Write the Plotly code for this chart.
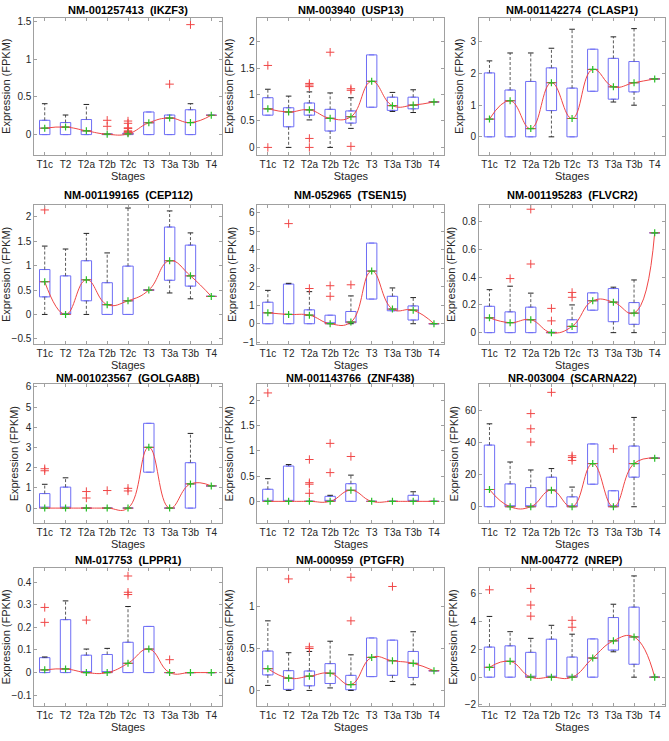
import plotly.graph_objects as go

STAGES = ["T1c", "T2", "T2a", "T2b", "T2c", "T3", "T3a", "T3b", "T4"]
POS = list(range(1, 10))

# ---------------- data ----------------
IKZF3_Q1 = [0, 0, 0, 0, 0, 0, 0, 0, 0.257]
IKZF3_MED = [0.085, 0.10, 0.05, 0.005, 0.01, 0.157, 0.22, 0.16, 0.257]
IKZF3_Q3 = [0.19, 0.16, 0.20, 0.01, 0.02, 0.30, 0.26, 0.33, 0.257]
IKZF3_LO = [0, 0, 0, 0, 0, 0, 0, 0, 0.257]
IKZF3_HI = [0.41, 0.26, 0.40, 0.01, 0.02, 0.30, 0.26, 0.41, 0.257]
IKZF3_OUT = [[], [], [], [0.19, 0.11], [0.18, 0.15, 0.09, 0.08, 0.05, 0.04, 0.03], [], [0.67], [1.46], []]

USP13_Q1 = [0.61, 0.39, 0.61, 0.31, 0.46, 0.76, 0.70, 0.73, 0.86]
USP13_MED = [0.73, 0.67, 0.71, 0.55, 0.58, 1.25, 0.79, 0.80, 0.86]
USP13_Q3 = [0.94, 0.75, 0.84, 0.72, 0.69, 1.75, 0.95, 0.95, 0.86]
USP13_LO = [0.61, 0, 0.52, 0, 0.36, 0.76, 0.68, 0.66, 0.86]
USP13_HI = [1.10, 0.97, 1.05, 1.03, 0.94, 1.75, 1.04, 1.09, 0.86]
USP13_OUT = [[1.55, 0], [], [1.21, 1.18, 1.15, 0.17, 0], [1.80], [1.11, 1.08, 0.02], [], [], [], []]

CLASP1_Q1 = [0, 0, 0, 0.83, 0, 1.44, 1.19, 1.42, 1.83]
CLASP1_MED = [0.56, 1.14, 0.26, 1.71, 0.58, 2.13, 1.58, 1.71, 1.83]
CLASP1_Q3 = [2.02, 1.48, 1.75, 2.18, 1.54, 2.77, 2.48, 2.38, 1.83]
CLASP1_LO = [0, 0, 0, 0, 0, 1.44, 1.10, 1.00, 1.83]
CLASP1_HI = [2.40, 2.65, 2.65, 2.80, 3.40, 2.77, 3.16, 3.42, 1.83]
CLASP1_OUT = [[], [], [], [], [], [], [], [], []]

CEP112_Q1 = [0.36, 0, 0.28, 0, 0, 0.49, 0.70, 0.58, 0.37]
CEP112_MED = [0.67, 0, 0.71, 0.20, 0.28, 0.50, 1.10, 0.79, 0.37]
CEP112_Q3 = [0.92, 0.79, 1.10, 0.65, 0.99, 0.51, 1.79, 1.42, 0.37]
CEP112_LO = [0, 0, 0, 0, 0, 0.49, 0.44, 0.32, 0.37]
CEP112_HI = [1.40, 1.34, 1.66, 1.26, 2.18, 0.51, 2.12, 1.67, 0.37]
CEP112_OUT = [[2.14], [], [], [], [], [], [], [], []]

TSEN15_Q1 = [0, 0, 0, 0, 0.05, 1.33, 0.70, 0.20, 0]
TSEN15_MED = [0.59, 0.50, 0.46, 0, 0.09, 2.84, 0.79, 0.73, 0]
TSEN15_Q3 = [1.16, 2.14, 0.75, 0.46, 0.66, 4.35, 1.48, 0.96, 0]
TSEN15_LO = [0, 0, 0, 0, 0, 1.33, 0.70, 0, 0]
TSEN15_HI = [1.80, 2.18, 1.73, 0.46, 1.50, 4.35, 1.93, 1.41, 0]
TSEN15_OUT = [[], [5.4], [1.9], [2.05, 1.48], [2.1], [], [], [], []]

FLVCR2_Q1 = [0, 0, 0, 0, 0, 0.162, 0.079, 0.06, 0.72]
FLVCR2_MED = [0.107, 0.072, 0.093, 0.0, 0.045, 0.23, 0.22, 0.141, 0.72]
FLVCR2_Q3 = [0.19, 0.15, 0.184, 0.003, 0.093, 0.287, 0.318, 0.217, 0.72]
FLVCR2_LO = [0, 0, 0, 0, 0, 0.162, 0, 0, 0.72]
FLVCR2_HI = [0.31, 0.335, 0.285, 0.003, 0.20, 0.287, 0.328, 0.38, 0.72]
FLVCR2_OUT = [[], [0.39], [0.89, 0.495], [0.175, 0.085], [0.29, 0.255], [], [], [], []]

GOLGA8B_Q1 = [0, 0, 0, 0, 0, 1.78, 0, 0, 1.1]
GOLGA8B_MED = [0, 0, 0, 0, 0, 3.01, 0, 1.2, 1.1]
GOLGA8B_Q3 = [0.72, 1.04, 0, 0, 0, 4.2, 0, 2.25, 1.1]
GOLGA8B_LO = [0, 0, 0, 0, 0, 1.78, 0, 0, 1.1]
GOLGA8B_HI = [1.18, 1.5, 0, 0, 0, 4.2, 0, 3.7, 1.1]
GOLGA8B_OUT = [[1.95, 1.85], [], [0.82, 0.5], [0.87], [0.98, 0.85], [], [], [], []]

ZNF438_Q1 = [0, 0, 0, 0, 0, 0, 0, 0, 0]
ZNF438_MED = [0, 0, 0, 0, 0.22, 0, 0, 0, 0]
ZNF438_Q3 = [0.24, 0.70, 0, 0.10, 0.35, 0, 0, 0.12, 0]
ZNF438_LO = [0, 0, 0, 0, 0, 0, 0, 0, 0]
ZNF438_HI = [0.45, 0.73, 0, 0.12, 0.52, 0, 0, 0.19, 0]
ZNF438_OUT = [[2.15], [], [0.83, 0.37, 0.34, 0.16], [1.15, 0.57], [0.89], [], [], [], []]

SCARNA22_Q1 = [0, 0, 0, 0, 0, 14.1, 0, 18.5, 30.4]
SCARNA22_MED = [10.8, 0, 0, 10.4, 0, 27, 0, 27, 30.4]
SCARNA22_Q3 = [38.6, 14.3, 12, 18.5, 6.2, 39.3, 10, 38, 30.4]
SCARNA22_LO = [0, 0, 0, 0, 0, 14.1, 0, 0, 30.4]
SCARNA22_HI = [51.9, 28, 23, 23.9, 12.3, 39.3, 10, 55.9, 30.4]
SCARNA22_OUT = [[], [], [58.3, 48.8, 40.5], [71.6], [31.9, 30.8, 29], [], [36.3], [], []]

LPPR1_Q1 = [0, 0, 0, 0, 0, 0, 0, 0, 0]
LPPR1_MED = [0.012, 0.016, 0, 0, 0.041, 0.104, 0, 0, 0]
LPPR1_Q3 = [0.066, 0.234, 0.077, 0.08, 0.134, 0.204, 0, 0, 0]
LPPR1_LO = [0, 0, 0, 0, 0, 0, 0, 0, 0]
LPPR1_HI = [0.069, 0.317, 0.104, 0.107, 0.292, 0.204, 0, 0, 0]
LPPR1_OUT = [[0.288, 0.222], [], [0.232], [], [0.427, 0.355, 0.345], [], [0.057], [], []]

PTGFR_Q1 = [0.185, 0.012, 0.055, 0.083, 0.008, 0.165, 0.18, 0.155, 0.235]
PTGFR_MED = [0.26, 0.146, 0.17, 0.205, 0.07, 0.394, 0.354, 0.323, 0.235]
PTGFR_Q3 = [0.47, 0.236, 0.232, 0.32, 0.18, 0.626, 0.6, 0.465, 0.235]
PTGFR_LO = [0.06, 0, 0, 0.03, 0, 0.165, 0.107, 0.068, 0.235]
PTGFR_HI = [0.83, 0.45, 0.465, 0.587, 0.425, 0.626, 0.6, 0.7, 0.235]
PTGFR_OUT = [[], [1.33], [0.52, 0.5], [], [1.35, 0.83], [], [1.24], [], []]

NREP_Q1 = [0, 0, 0, 0, 0, 0, 1.95, 0.93, 0]
NREP_MED = [0.71, 1.14, 0, 0, 0, 1.38, 2.62, 2.9, 0]
NREP_Q3 = [2.17, 2.26, 1.79, 2.74, 1.45, 2.76, 4.3, 5.05, 0]
NREP_LO = [0, 0, 0, 0, 0, 0, 1.83, 0, 0]
NREP_HI = [4.38, 3.28, 2.8, 3.74, 3.1, 2.76, 5.26, 7.3, 0]
NREP_OUT = [[6.3], [], [6.4, 5.2, 4.4], [], [4.1, 3.6], [], [], [], []]

TITLES = ["NM-001257413  (IKZF3)", "NM-003940  (USP13)", "NM-001142274  (CLASP1)",
          "NM-001199165  (CEP112)", "NM-052965  (TSEN15)", "NM-001195283  (FLVCR2)",
          "NM-001023567  (GOLGA8B)", "NM-001143766  (ZNF438)", "NR-003004  (SCARNA22)",
          "NM-017753  (LPPR1)", "NM-000959  (PTGFR)", "NM-004772  (NREP)"]

Y_RANGES = [[-0.265, 1.55], [-0.135, 2.45], [-0.56, 3.76],
            [-0.6, 2.24], [-1.08, 6.4], [-0.08, 0.92],
            [-0.74, 6.13], [-0.43, 2.32], [-10.2, 76.6],
            [-0.149, 0.464], [-0.189, 1.465], [-2.1, 7.9]]
Y_DTICK = [0.5, 0.5, 1, 0.5, 1, 0.2, 1, 0.5, 20, 0.1, 0.5, 2]

PANELS = [
    (IKZF3_Q1, IKZF3_MED, IKZF3_Q3, IKZF3_LO, IKZF3_HI, IKZF3_OUT),
    (USP13_Q1, USP13_MED, USP13_Q3, USP13_LO, USP13_HI, USP13_OUT),
    (CLASP1_Q1, CLASP1_MED, CLASP1_Q3, CLASP1_LO, CLASP1_HI, CLASP1_OUT),
    (CEP112_Q1, CEP112_MED, CEP112_Q3, CEP112_LO, CEP112_HI, CEP112_OUT),
    (TSEN15_Q1, TSEN15_MED, TSEN15_Q3, TSEN15_LO, TSEN15_HI, TSEN15_OUT),
    (FLVCR2_Q1, FLVCR2_MED, FLVCR2_Q3, FLVCR2_LO, FLVCR2_HI, FLVCR2_OUT),
    (GOLGA8B_Q1, GOLGA8B_MED, GOLGA8B_Q3, GOLGA8B_LO, GOLGA8B_HI, GOLGA8B_OUT),
    (ZNF438_Q1, ZNF438_MED, ZNF438_Q3, ZNF438_LO, ZNF438_HI, ZNF438_OUT),
    (SCARNA22_Q1, SCARNA22_MED, SCARNA22_Q3, SCARNA22_LO, SCARNA22_HI, SCARNA22_OUT),
    (LPPR1_Q1, LPPR1_MED, LPPR1_Q3, LPPR1_LO, LPPR1_HI, LPPR1_OUT),
    (PTGFR_Q1, PTGFR_MED, PTGFR_Q3, PTGFR_LO, PTGFR_HI, PTGFR_OUT),
    (NREP_Q1, NREP_MED, NREP_Q3, NREP_LO, NREP_HI, NREP_OUT),
]

# ---------------- layout geometry (pixels) ----------------
W, H = 669, 741
COLS = [(30.5, 219.0), (255.0, 443.0), (478.0, 665.0)]
ROWS = [(15.0, 153.0), (204.0, 344.0), (385.0, 525.0), (570.0, 710.0)]
TITLE_Y = [7.0, 193.5, 379.0, 562.5]

FONT = "Liberation Sans, Arial, sans-serif"
BOX_BLUE = "rgb(110,110,245)"
RED = "rgb(240,70,70)"
GREEN = "rgb(40,190,40)"
FRAME = "#a0a0a0"
TEXT = "#262626"

fig = go.Figure()
layout = dict(width=W, height=H, margin=dict(l=0, r=0, t=0, b=0),
              paper_bgcolor="white", plot_bgcolor="white", showlegend=False,
              font=dict(family=FONT, size=10, color=TEXT))
annotations = []

for k, (q1, med, q3, lo, hi, out) in enumerate(PANELS):
    r, c = divmod(k, 3)
    sfx = "" if k == 0 else str(k + 1)
    xa, ya = "x" + sfx, "y" + sfx

    # box (no whiskers)
    fig.add_trace(go.Box(x=POS, q1=q1, median=med, q3=q3, lowerfence=q1, upperfence=q3,
                         width=0.5, fillcolor="rgba(0,0,0,0)",
                         line=dict(color=BOX_BLUE, width=1),
                         boxpoints=False, hoverinfo="skip",
                         xaxis=xa, yaxis=ya))

    # dashed whiskers
    wx, wy, cx, cy = [], [], [], []
    for p, a, b, l, h in zip(POS, q1, q3, lo, hi):
        if h > b:
            wx += [p, p, None]; wy += [b, h, None]
            cx.append(p); cy.append(h)
        if l < a:
            wx += [p, p, None]; wy += [a, l, None]
            cx.append(p); cy.append(l)
    if wx:
        fig.add_trace(go.Scatter(x=wx, y=wy, mode="lines",
                                 line=dict(color="#5a5a5a", width=1, dash="3px,2px"),
                                 hoverinfo="skip", xaxis=xa, yaxis=ya))
        fig.add_trace(go.Scatter(x=cx, y=cy, mode="markers",
                                 marker=dict(symbol="line-ew", size=4,
                                             line=dict(color="#222222", width=1)),
                                 hoverinfo="skip", xaxis=xa, yaxis=ya))

    # red median lines
    fig.add_trace(go.Scatter(x=POS, y=med, mode="markers",
                             marker=dict(symbol="line-ew", size=7.4,
                                         line=dict(color=RED, width=1)),
                             hoverinfo="skip", xaxis=xa, yaxis=ya))

    # outliers
    ox, oy = [], []
    for p, vals in zip(POS, out):
        for v in vals:
            ox.append(p); oy.append(v)
    if ox:
        fig.add_trace(go.Scatter(x=ox, y=oy, mode="markers",
                                 marker=dict(symbol="cross-thin", size=6,
                                             line=dict(color=RED, width=1)),
                                 hoverinfo="skip", xaxis=xa, yaxis=ya))

    # smooth trend through medians
    fig.add_trace(go.Scatter(x=POS, y=med, mode="lines",
                             line=dict(color=RED, width=1, shape="spline", smoothing=1.3),
                             hoverinfo="skip", xaxis=xa, yaxis=ya))
    fig.add_trace(go.Scatter(x=POS, y=med, mode="markers",
                             marker=dict(symbol="cross-thin", size=5,
                                         line=dict(color=GREEN, width=1.2)),
                             hoverinfo="skip", xaxis=xa, yaxis=ya))

    x0, x1 = COLS[c]
    yt, yb = ROWS[r]
    common = dict(showgrid=False, zeroline=False, showline=True, linecolor=FRAME,
                  linewidth=1, mirror="ticks", ticks="inside", ticklen=3,
                  tickcolor=FRAME, tickfont=dict(size=10, color=TEXT))
    layout["xaxis" + sfx] = dict(common, domain=[x0 / W, x1 / W], range=[0.5, 9.5],
                                 tickmode="array", tickvals=POS, ticktext=STAGES,
                                 anchor=ya,
                                 title=dict(text="Stages", font=dict(size=11, color=TEXT),
                                            standoff=1))
    layout["yaxis" + sfx] = dict(common, domain=[1 - yb / H, 1 - yt / H],
                                 range=Y_RANGES[k], dtick=Y_DTICK[k], tick0=0,
                                 anchor=xa,
                                 title=dict(text="Expression (FPKM)",
                                            font=dict(size=11, color=TEXT), standoff=4))
    annotations.append(dict(text="<b>" + TITLES[k] + "</b>", xref="paper", yref="paper",
                            x=(x0 + x1) / 2 / W, y=1 - TITLE_Y[r] / H, xanchor="center",
                            yanchor="middle", borderpad=0, showarrow=False,
                            font=dict(size=11, color="#000000")))

layout["annotations"] = annotations
fig.update_layout(**layout)
fig.write_html("out.html", config={"displayModeBar": False},
               post_script="document.body.style.margin='0';document.body.style.overflow='hidden';")
